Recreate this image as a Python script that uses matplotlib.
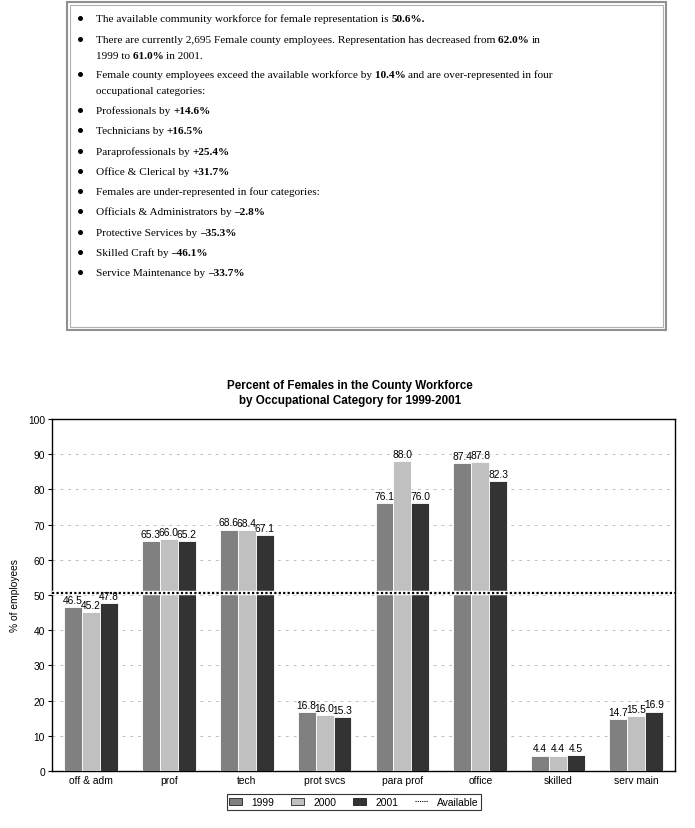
import matplotlib
matplotlib.use("Agg")
import matplotlib.pyplot as plt
import numpy as np
from matplotlib.patches import Rectangle
from matplotlib.lines import Line2D
from matplotlib.patches import Patch

categories = ["off & adm", "prof", "tech", "prot svcs", "para prof", "office", "skilled", "serv main"]
years = ["1999", "2000", "2001"]
v1999 = [46.5, 65.3, 68.6, 16.8, 76.1, 87.4, 4.4, 14.7]
v2000 = [45.2, 66.0, 68.4, 16.0, 88.0, 87.8, 4.4, 15.5]
v2001 = [47.8, 65.2, 67.1, 15.3, 76.0, 82.3, 4.5, 16.9]
available = 50.6
colors = ["#808080", "#c0c0c0", "#333333"]

# text lines: list of (segments) where each segment is (text, bold)
bullets = [
    [[("The available community workforce for female representation is ", False), ("50.6%.", True)]],
    [[("There are currently 2,695 Female county employees. Representation has decreased from ", False), ("62.0% ", True), ("in", False)],
     [("1999 to ", False), ("61.0% ", True), ("in 2001.", False)]],
    [[("Female county employees exceed the available workforce by ", False), ("10.4% ", True), ("and are over-represented in four", False)],
     [("occupational categories:", False)]],
    [[("Professionals by ", False), ("+14.6%", True)]],
    [[("Technicians by ", False), ("+16.5%", True)]],
    [[("Paraprofessionals by ", False), ("+25.4%", True)]],
    [[("Office & Clerical by ", False), ("+31.7%", True)]],
    [[("Females are under-represented in four categories:", False)]],
    [[("Officials & Administrators by ", False), ("\u20132.8%", True)]],
    [[("Protective Services by ", False), ("\u201335.3%", True)]],
    [[("Skilled Craft by ", False), ("\u201346.1%", True)]],
    [[("Service Maintenance by ", False), ("\u201333.7%", True)]],
]
bullet_y = [18, 39, 74, 110, 130, 151, 171, 191, 211, 232, 252, 272]

W, H = 695, 829
fig = plt.figure(figsize=(W / 100, H / 100), dpi=100)

def fx(px):
    return px / W

def fy(py):
    return 1 - py / H

# text box border (double gray)
fig.patches.append(Rectangle((fx(67), fy(331)), fx(666) - fx(67), fy(3) - fy(331),
                             transform=fig.transFigure, fill=False, edgecolor="#909090", lw=1.5))
fig.patches.append(Rectangle((fx(70), fy(328)), fx(663) - fx(70), fy(6) - fy(328),
                             transform=fig.transFigure, fill=False, edgecolor="#b0b0b0", lw=0.8))

fig.canvas.draw()
renderer = fig.canvas.get_renderer()
fsz = 8.15
serif = "Liberation Serif"
for segs_lines, y0 in zip(bullets, bullet_y):
    fig.add_artist(Line2D([fx(80)], [fy(y0 + 1)], marker="o", markersize=3.6, color="black",
                          markeredgewidth=0, transform=fig.transFigure))
    for li, segs in enumerate(segs_lines):
        y = y0 + li * 16 + 4
        x = 96
        for txt, bold in segs:
            t = fig.text(fx(x), fy(y), txt, fontsize=fsz, family=serif,
                         fontweight="bold" if bold else "normal", va="baseline", ha="left")
            bb = t.get_window_extent(renderer=renderer)
            x += bb.width

# chart
ax = fig.add_axes([fx(52), fy(772), fx(675) - fx(52), fy(420) - fy(772)])
x = np.arange(len(categories))
bw = 0.23
series = [v1999, v2000, v2001]
for i, (vals, c, yr) in enumerate(zip(series, colors, years)):
    pos = x + (i - 1) * bw
    ax.bar(pos, vals, bw, color=c, edgecolor="white", linewidth=0.6, zorder=3, label=yr)
    for p, v in zip(pos, vals):
        ax.text(p, v + 0.6, f"{v:.1f}", ha="center", va="bottom", fontsize=7.4,
                family="Liberation Sans", zorder=5)

ax.axhline(available, color="white", lw=3.2, zorder=4)
ax.axhline(available, color="black", lw=1.6, ls=(0, (1, 1)), zorder=4.5)

ax.set_xlim(-0.5, len(categories) - 0.5)
ax.set_ylim(0, 100)
ax.set_yticks(np.arange(0, 101, 10))
ax.set_xticks(x)
ax.set_xticklabels(categories, fontsize=7.4, family="Liberation Sans")
ax.tick_params(axis="x", length=0, pad=3)
ax.tick_params(axis="y", labelsize=7.4, length=3, pad=2)
for lab in ax.get_yticklabels():
    lab.set_family("Liberation Sans")
ax.yaxis.grid(True, color="#c0c0c0", ls=(0, (3, 5)), lw=0.7, zorder=0)
ax.set_axisbelow(True)
for s in ax.spines.values():
    s.set_color("black")
    s.set_linewidth(1.0)
ax.spines["bottom"].set_zorder(2)
ax.set_ylabel("% of employees", fontsize=7.4, family="Liberation Sans", labelpad=6)

fig.text(fx(350), fy(386), "Percent of Females in the County Workforce", ha="center", va="center",
         fontsize=8.4, fontweight="bold", family="Liberation Sans")
fig.text(fx(350), fy(401), "by Occupational Category for 1999-2001", ha="center", va="center",
         fontsize=8.4, fontweight="bold", family="Liberation Sans")

handles = [Patch(facecolor=c, edgecolor="black", lw=0.5) for c in colors]
handles.append(Line2D([0], [0], color="black", ls=(0, (1, 1)), lw=0.8))
leg = fig.legend(handles, years + ["Available"], loc="center", bbox_to_anchor=(fx(354), fy(803)),
                 ncol=4, frameon=True, fancybox=False, edgecolor="black",
                 handlelength=1.2, handleheight=0.7, columnspacing=1.7, handletextpad=0.9,
                 borderpad=0.25, prop={"family": "Liberation Sans", "size": 7.4})
leg.get_frame().set_linewidth(0.8)

fig.savefig("out.png", dpi=100)
